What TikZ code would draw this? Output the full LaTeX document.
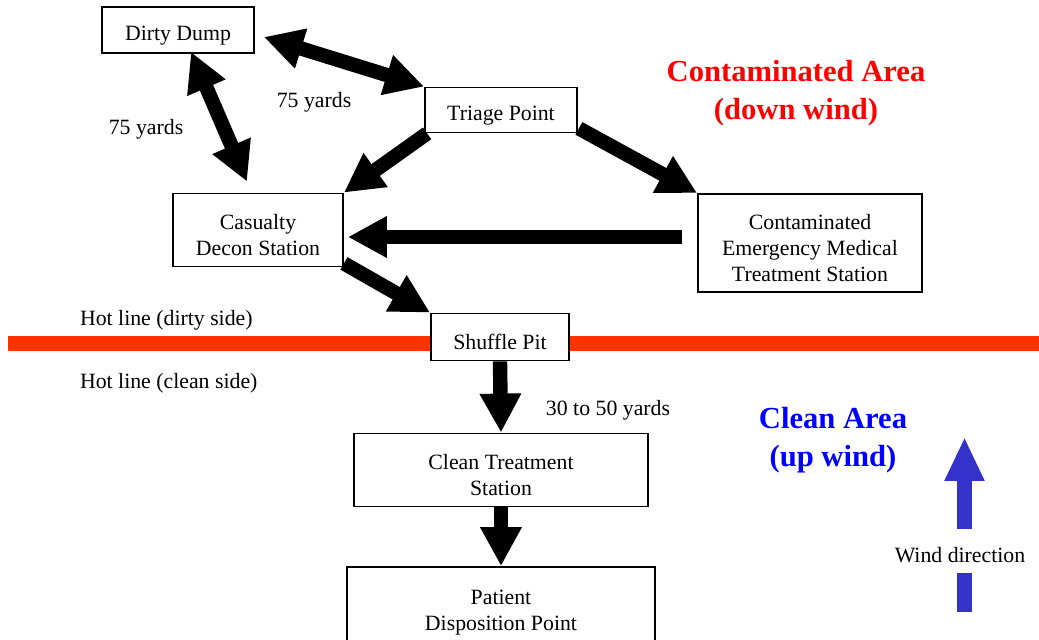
\documentclass[tikz,border=0pt]{standalone}
\usepackage{fontspec}
\setmainfont{Liberation Serif}
\usetikzlibrary{arrows.meta}
\definecolor{hotred}{HTML}{FF3300}
\definecolor{windblue}{HTML}{3333CC}
\newcommand{\tallline}{\rule{0pt}{12.5pt}}
\tikzset{
  box/.style={draw, line width=0.9pt, fill=white, align=center, inner sep=0pt},
  fat/.style={line width=7.2pt, -{Triangle[width=19.5pt,length=19.5pt]}},
  fatboth/.style={line width=7.2pt, {Triangle[width=19.5pt,length=19.5pt]}-{Triangle[width=19.5pt,length=19.5pt]}},
  areatitle/.style={align=center, font=\fontsize{15.3}{19}\selectfont\bfseries}
}
\begin{document}
\begin{tikzpicture}[x=0.5pt, y=-0.5pt, every node/.style={font=\fontsize{10.9}{13}\selectfont}]
            \useasboundingbox (0,0) rectangle (1039,640);
            \coordinate (hl west) at (8,343.5);
            \coordinate (hl east) at (1045,343.5);
            \draw[hotred, line width=7.5pt] (hl west) -- (hl east);
            \node[box, minimum width=76pt, minimum height=23pt] (dd) at (178,30) {\tallline Dirty Dump};
            \node[box, minimum width=76pt, minimum height=22.5pt] (tp) at (501,110) {\tallline Triage Point};
            \node[box, minimum width=85pt, minimum height=36.5pt] (cds) at (258,230) {\tallline Casualty\\Decon Station};
            \node[box, minimum width=112pt, minimum height=49pt] (emt) at (810,243) {\tallline Contaminated\\Emergency Medical\\Treatment Station};
            \node[box, minimum width=69pt, minimum height=23.5pt] (sp) at (500,337) {\tallline Shuffle Pit};
            \node[box, minimum width=147pt, minimum height=36.5pt] (ctr) at (501,470) {\tallline Clean Treatment\\Station};
            \node[box, minimum width=154pt, minimum height=40pt] (pdp) at (501,607) {\tallline Patient\\Disposition Point};
            \draw[fatboth] ([shift={(9,7)}]dd.east) -- (tp.north west);
            \draw[fatboth] ([shift={(13,-2)}]dd.south) -- ([shift={(-11,-11)}]cds.north);
            \draw[fat] ([shift={(3,0)}]tp.south west) -- (cds.north east);
            \draw[fat] ([shift={(1,-5)}]tp.south east) -- (emt.north west);
            \draw[fat] ([shift={(-15,-6)}]emt.west) -- ([shift={(4,7)}]cds.east);
            \draw[fat] ([shift={(0,-4)}]cds.south east) -- (sp.north west);
            \draw[fat] (sp.south) -- (ctr.north);
            \draw[fat] (ctr.south) -- (pdp.north);
            \node (yd left) at (146,129) {75 yards};
            \node (yd mid) at (314,102) {75 yards};
            \node (yd clean) at (608,410) {30 to 50 yards};
            \node[anchor=west] (hl dirty) at (73,320) {Hot line (dirty side)};
            \node[anchor=west] (hl clean) at (73,383) {Hot line (clean side)};
            \node[areatitle, red] (contam) at (796,93) {Contaminated Area\\(down wind)};
            \node[areatitle, blue] (clean) at (833,440) {Clean Area\\(up wind)};
            \coordinate (wind tail) at (964.5,529);
            \coordinate (wind tip) at (964.5,437);
            \coordinate (bar top) at (964.5,573);
            \coordinate (bar end) at (964.5,612);
            \draw[windblue, line width=7.5pt, -{Triangle[width=18.5pt,length=22pt]}] (wind tail) -- (wind tip);
            \draw[windblue, line width=7.5pt] (bar top) -- (bar end);
            \node (wind) at (960,555) {Wind direction};
        \end{tikzpicture}
\end{document}
